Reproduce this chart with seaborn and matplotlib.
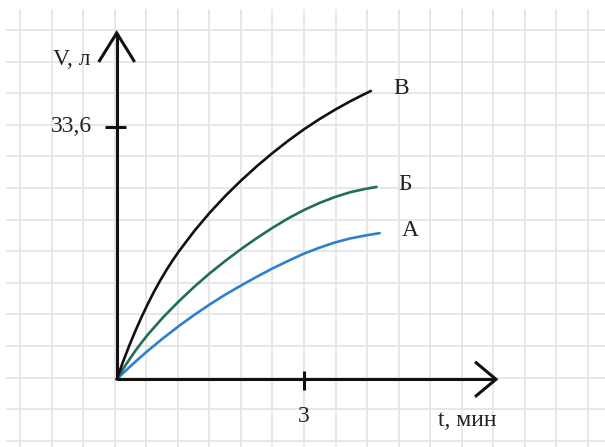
import matplotlib
matplotlib.use("Agg")
import matplotlib.pyplot as plt
import seaborn as sns
import pandas as pd

# ---- data ----
t_B = [0, 0.1, 0.2, 0.3, 0.4, 0.5, 0.6, 0.7, 0.8, 0.9, 1.0, 1.25, 1.5, 1.75, 2.0,
       2.25, 2.5, 2.75, 3.0, 3.25, 3.5, 3.75, 4.0, 4.08]
v_B = [0, 2.3, 4.45, 6.45, 8.3, 10.05, 11.67, 13.17, 14.56, 15.85, 17.05, 19.78, 22.23, 24.45, 26.48,
       28.36, 30.1, 31.73, 33.23, 34.6, 35.85, 37.0, 38.05, 38.37]

t_Bg = [0, 0.1, 0.2, 0.3, 0.4, 0.5, 0.75, 1.0, 1.25, 1.5, 1.75, 2.0, 2.25, 2.5, 2.75,
        3.0, 3.25, 3.5, 3.75, 4.0, 4.17]
v_Bg = [0, 1.35, 2.6, 3.8, 4.9, 5.95, 8.3, 10.4, 12.35, 14.15, 15.8, 17.35, 18.8, 20.15, 21.4,
        22.5, 23.45, 24.25, 24.9, 25.35, 25.6]

t_A = [0, 0.1, 0.2, 0.3, 0.4, 0.5, 0.75, 1.0, 1.25, 1.5, 1.75, 2.0, 2.25, 2.5, 2.75,
       3.0, 3.25, 3.5, 3.75, 4.0, 4.22]
v_A = [0, 0.8, 1.58, 2.34, 3.08, 3.8, 5.5, 7.1, 8.6, 10.0, 11.3, 12.5, 13.65, 14.75, 15.75,
       16.7, 17.5, 18.2, 18.75, 19.15, 19.45]

curve_names = ["А", "Б", "В"]
x_tick_value = 3
x_tick_label = "3"
y_tick_value = 33.6
y_tick_label = "33,6"
x_axis_label = "t, мин"
y_axis_label = "V, л"

df = pd.concat([
    pd.DataFrame({"t": t_A, "V": v_A, "curve": "А"}),
    pd.DataFrame({"t": t_Bg, "V": v_Bg, "curve": "Б"}),
    pd.DataFrame({"t": t_B, "V": v_B, "curve": "В"}),
], ignore_index=True)

sns.set_style("white")
plt.rcParams["font.family"] = ["Liberation Serif", "DejaVu Serif"]

W, H = 605, 447
fig = plt.figure(figsize=(W / 100, H / 100), dpi=100)

# ---- grid paper background (pixel coordinates) ----
bg = fig.add_axes([0, 0, 1, 1])
bg.set_xlim(0, W)
bg.set_ylim(H, 0)
bg.axis("off")
grid_c = "#e3e3e3"
for k in range(20):
    x = 20 + k * 31.55
    if x < W:
        bg.plot([x, x], [10, H], color=grid_c, lw=1.2, zorder=0)
for k in range(15):
    y = 30 + k * 31.6
    if y < H:
        bg.plot([7, W], [y, y], color=grid_c, lw=1.2, zorder=0)

# ---- data axes ----
ax = fig.add_axes([0, 0, 1, 1])
ax.patch.set_alpha(0)
px_t, px_v = 62.3, 7.515
ox, oy = 116.7, 379.3
ax.set_xlim(-ox / px_t, (W - ox) / px_t)
ax.set_ylim(-(H - oy) / px_v, oy / px_v)
ax.axis("off")

palette = {"А": "#2f7fd0", "Б": "#1f6e55", "В": "#111111"}
sns.lineplot(data=df, x="t", y="V", hue="curve", palette=palette, legend=False,
             linewidth=1.9, ax=ax, estimator=None, sort=False)

axis_kw = dict(color="#111111", lw=2.2, solid_capstyle="butt", solid_joinstyle="miter")
x_end = (496 - ox) / px_t
y_end = (oy - 33) / px_v
ax.plot([0, x_end], [0, 0], **axis_kw)
ax.plot([0, 0], [0, y_end], **axis_kw)
# arrow heads
ax.plot([x_end - 21 / px_t, x_end, x_end - 21 / px_t], [17.5 / px_v, 0, -17.5 / px_v], **axis_kw)
ax.plot([-18 / px_t, 0, 18 / px_t], [y_end - 29 / px_v, y_end, y_end - 29 / px_v], **axis_kw)
# ticks
ax.plot([-12 / px_t, 9 / px_t], [y_tick_value, y_tick_value], **axis_kw)
ax.plot([x_tick_value, x_tick_value], [8 / px_v, -11 / px_v], **axis_kw)

txt = dict(fontsize=17, color="#222222")
ax.text(-25 / px_t, y_tick_value, y_tick_label, ha="right", va="center", **txt)
ax.text(x_tick_value, -(417 - oy) / px_v, x_tick_label, ha="center", va="center", **txt)
ax.text((438 - ox) / px_t, -(420 - oy) / px_v, x_axis_label, ha="left", va="center", **txt)
ax.text((90 - ox) / px_t, (oy - 60) / px_v, y_axis_label, ha="right", va="center", **txt)

label_pos = {"В": (t_B[-1], v_B[-1]), "Б": (t_Bg[-1], v_Bg[-1]), "А": (t_A[-1], v_A[-1])}
for name in curve_names:
    tx, vy = label_pos[name]
    ax.text(tx + 22 / px_t, vy + 0.3, name, ha="left", va="center", **txt)

fig.savefig("out.png", dpi=100)
